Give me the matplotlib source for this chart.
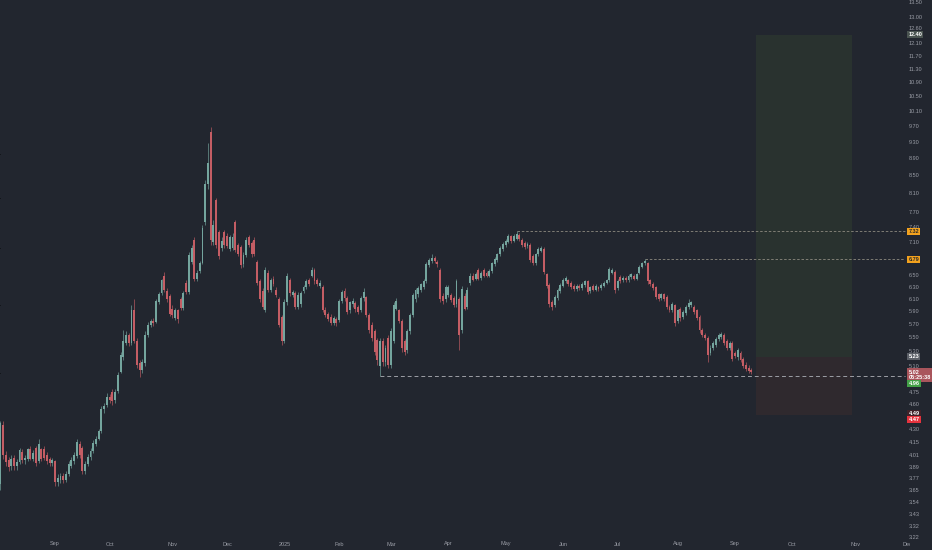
import numpy as np
import pandas as pd
import matplotlib
matplotlib.use("Agg")
import matplotlib.pyplot as plt
from matplotlib.transforms import blended_transform_factory, offset_copy

# ---------------- data (daily candles, trading days from 2024-08-05) ----------------
opens = [3.72,4.36,4.02,3.96,3.90,3.99,3.90,3.94,4.05,3.96,
         3.98,4.08,3.98,4.09,3.95,4.08,4.08,4.02,3.98,3.93,
         3.95,3.74,3.76,3.80,3.76,3.82,3.90,3.95,4.01,4.14,
         4.10,3.85,3.92,4.00,4.06,4.14,4.20,4.28,4.54,4.60,
         4.70,4.76,4.66,4.77,5.02,5.22,5.42,5.55,5.42,5.93,
         5.45,5.14,5.05,5.14,5.55,5.70,5.76,5.74,6.06,6.20,
         6.50,6.24,6.15,5.95,5.80,5.92,6.10,5.96,6.38,6.22,
         6.75,7.15,6.45,6.58,6.72,7.50,8.30,9.55,7.12,7.96,
         7.30,7.00,7.30,7.22,6.98,7.00,7.50,7.06,7.02,6.70,
         6.87,7.20,7.10,7.15,6.75,6.40,6.23,5.93,6.55,6.25,
         6.45,6.26,6.10,5.82,5.45,6.05,6.42,6.17,6.20,5.98,
         6.02,6.24,6.30,6.42,6.50,6.60,6.42,6.32,6.30,5.93,
         5.86,5.82,5.73,5.78,5.77,6.07,6.24,6.12,5.92,6.02,
         6.04,5.97,5.93,6.12,6.13,5.85,5.70,5.60,5.47,5.10,
         5.45,5.15,5.50,5.12,5.45,5.95,5.92,5.75,5.45,5.32,
         5.60,5.85,6.10,6.18,6.25,6.30,6.40,6.68,6.76,6.82,
         6.74,6.60,6.15,6.10,6.17,6.17,6.12,6.02,6.10,5.62,
         6.15,5.97,6.38,6.50,6.45,6.60,6.46,6.60,6.55,6.50,
         6.58,6.70,6.78,6.88,6.98,7.05,7.12,7.22,7.14,7.18,
         7.24,7.16,7.10,7.03,7.06,6.85,6.72,6.88,6.95,6.98,
         6.52,6.34,6.05,6.00,6.12,6.24,6.33,6.40,6.42,6.38,
         6.33,6.27,6.32,6.28,6.34,6.40,6.24,6.32,6.26,6.30,
         6.28,6.33,6.38,6.42,6.55,6.56,6.28,6.48,6.42,6.46,
         6.42,6.47,6.50,6.45,6.55,6.66,6.72,6.72,6.42,6.36,
         6.30,6.18,6.12,6.18,6.14,5.98,5.92,6.00,5.75,5.95,
         5.82,5.88,5.97,6.00,5.98,5.92,5.82,5.62,5.55,5.50,
         5.28,5.36,5.40,5.48,5.52,5.54,5.45,5.35,5.42,5.28,
         5.22,5.28,5.20,5.12,5.08,5.05]
highs = [4.40,4.40,4.06,4.00,4.02,4.02,3.98,4.10,4.08,4.02,
         4.10,4.12,4.07,4.12,4.20,4.10,4.12,4.05,4.00,3.99,
         3.97,3.82,3.83,3.83,3.85,3.95,4.00,4.05,4.20,4.17,
         4.12,3.95,4.03,4.09,4.18,4.23,4.31,4.58,4.62,4.74,
         4.73,4.80,4.80,5.02,5.30,5.62,5.60,5.58,6.00,6.10,
         5.50,5.18,5.20,5.60,5.74,5.78,5.80,6.10,6.22,6.45,
         6.56,6.28,6.18,6.00,5.96,5.95,6.14,6.24,6.42,6.92,
         7.05,7.20,6.60,6.76,7.45,8.40,9.27,9.68,7.55,8.00,
         7.35,7.20,7.35,7.28,7.25,7.28,7.55,7.10,7.05,6.92,
         7.20,7.25,7.14,7.20,6.78,6.45,6.28,6.65,6.60,6.46,
         6.50,6.30,6.14,5.85,6.10,6.55,6.46,6.26,6.24,6.22,
         6.24,6.34,6.44,6.46,6.65,6.63,6.46,6.42,6.34,5.97,
         5.90,5.86,5.84,5.82,6.10,6.26,6.28,6.15,6.08,6.12,
         6.07,6.00,6.15,6.28,6.16,5.88,5.74,5.64,5.50,5.50,
         5.50,5.40,5.55,5.65,6.05,6.12,5.95,5.78,5.48,5.64,
         5.88,6.20,6.28,6.32,6.38,6.44,6.74,6.82,6.88,6.86,
         6.77,6.64,6.20,6.34,6.34,6.21,6.16,6.44,6.14,6.32,
         6.20,6.30,6.54,6.54,6.57,6.64,6.58,6.63,6.58,6.62,
         6.75,6.83,6.91,7.03,7.11,7.18,7.26,7.25,7.26,7.32,
         7.28,7.19,7.13,7.12,7.09,6.88,6.91,7.02,7.04,7.01,
         6.55,6.37,6.09,6.17,6.28,6.37,6.46,6.50,6.45,6.41,
         6.36,6.35,6.35,6.39,6.43,6.43,6.33,6.35,6.35,6.33,
         6.37,6.41,6.45,6.66,6.64,6.59,6.44,6.51,6.49,6.49,
         6.53,6.55,6.53,6.55,6.69,6.75,6.79,6.75,6.45,6.39,
         6.33,6.21,6.21,6.21,6.17,6.01,6.05,6.03,5.95,5.98,
         5.93,6.01,6.10,6.08,6.01,5.95,5.85,5.65,5.58,5.53,
         5.39,5.45,5.51,5.57,5.59,5.57,5.48,5.45,5.45,5.31,
         5.35,5.31,5.23,5.15,5.11,5.08]
lows = [3.66,3.98,3.90,3.85,3.86,3.86,3.86,3.92,3.93,3.92,
        3.95,3.96,3.95,3.90,3.93,3.95,3.96,3.92,3.90,3.90,
        3.70,3.70,3.73,3.73,3.74,3.80,3.88,3.92,3.99,3.99,
        3.82,3.82,3.90,3.97,4.04,4.12,4.18,4.26,4.50,4.57,
        4.62,4.60,4.62,4.74,5.00,5.18,5.40,5.38,5.40,5.42,
        5.08,4.95,5.00,5.10,5.52,5.66,5.68,5.72,6.02,6.17,
        6.22,6.06,5.84,5.80,5.77,5.73,5.92,5.93,6.18,6.18,
        6.70,6.40,6.40,6.54,6.70,7.45,8.20,7.05,7.05,7.00,
        6.80,6.95,7.00,7.00,6.95,6.96,6.92,6.85,6.64,6.66,
        6.84,7.02,6.84,6.85,6.34,6.06,5.94,5.90,6.22,6.22,
        6.32,6.14,5.66,5.40,5.42,6.00,6.16,6.14,5.94,5.95,
        5.98,6.20,6.27,6.33,6.47,6.36,6.32,6.29,5.90,5.82,
        5.76,5.70,5.70,5.68,5.74,6.04,6.08,5.87,5.88,5.98,
        5.90,5.86,5.90,6.08,5.82,5.58,5.46,5.26,5.12,4.97,
        5.10,5.10,5.08,5.08,5.42,5.92,5.72,5.30,5.25,5.28,
        5.56,5.82,6.06,6.14,6.22,6.27,6.37,6.65,6.72,6.72,
        6.66,6.06,6.02,6.06,6.14,6.05,5.97,5.98,5.33,5.58,
        5.92,5.94,6.34,6.40,6.42,6.42,6.43,6.47,6.47,6.47,
        6.55,6.67,6.75,6.85,6.95,7.02,7.09,7.10,7.11,7.15,
        7.14,7.02,6.98,7.00,6.74,6.68,6.69,6.85,6.92,6.52,
        6.28,5.98,5.92,5.97,6.09,6.21,6.30,6.37,6.33,6.27,
        6.24,6.24,6.25,6.25,6.31,6.18,6.21,6.23,6.23,6.24,
        6.25,6.30,6.35,6.39,6.52,6.21,6.25,6.37,6.39,6.39,
        6.39,6.44,6.42,6.42,6.52,6.63,6.69,6.36,6.33,6.25,
        6.11,6.07,6.09,6.07,5.95,5.89,5.89,5.68,5.72,5.76,
        5.79,5.85,5.94,5.97,5.87,5.77,5.58,5.52,5.47,5.15,
        5.25,5.33,5.37,5.45,5.49,5.39,5.32,5.32,5.17,5.21,
        5.19,5.15,5.07,5.03,5.00,4.99]
closes = [4.38,4.02,3.94,3.89,3.98,3.90,3.94,4.07,3.96,3.99,
          4.08,3.98,4.04,3.93,4.14,3.98,3.99,3.95,3.93,3.96,
          3.74,3.78,3.80,3.76,3.82,3.92,3.97,4.02,4.16,4.02,
          3.85,3.92,4.00,4.06,4.15,4.20,4.28,4.55,4.58,4.70,
          4.66,4.64,4.76,4.98,5.25,5.45,5.55,5.42,5.93,5.45,
          5.12,5.05,5.15,5.55,5.70,5.75,5.72,6.07,6.18,6.42,
          6.26,6.10,5.87,5.85,5.92,5.78,5.96,6.20,6.22,6.87,
          7.00,6.45,6.55,6.72,7.38,8.30,8.79,7.15,7.45,7.05,
          6.85,7.14,7.06,7.04,7.20,7.20,6.96,6.88,6.68,6.87,
          7.15,7.06,6.88,6.88,6.37,6.10,5.98,6.60,6.25,6.42,
          6.36,6.17,5.70,5.45,6.05,6.50,6.20,6.22,5.98,6.17,
          6.20,6.30,6.40,6.36,6.60,6.40,6.36,6.38,5.93,5.85,
          5.79,5.73,5.80,5.72,6.07,6.22,6.12,5.90,6.05,6.08,
          5.94,5.90,6.12,6.22,5.85,5.62,5.50,5.30,5.18,5.45,
          5.15,5.35,5.12,5.60,6.00,6.07,5.76,5.35,5.30,5.60,
          5.85,6.17,6.25,6.28,6.35,6.40,6.70,6.78,6.82,6.76,
          6.70,6.10,6.07,6.30,6.30,6.09,6.01,6.40,5.55,6.27,
          5.95,6.25,6.50,6.42,6.53,6.45,6.55,6.50,6.50,6.58,
          6.72,6.80,6.88,7.00,7.08,7.14,7.22,7.14,7.22,7.26,
          7.18,7.06,7.02,7.08,6.78,6.72,6.88,6.98,7.00,6.56,
          6.32,6.02,5.98,6.14,6.25,6.34,6.42,6.46,6.36,6.30,
          6.27,6.32,6.28,6.36,6.40,6.22,6.30,6.26,6.32,6.27,
          6.34,6.38,6.42,6.62,6.60,6.25,6.40,6.40,6.46,6.42,
          6.50,6.52,6.45,6.52,6.66,6.72,6.76,6.40,6.36,6.28,
          6.14,6.10,6.18,6.10,5.98,5.92,6.02,5.72,5.92,5.80,
          5.90,5.98,6.04,6.05,5.90,5.80,5.62,5.55,5.50,5.26,
          5.36,5.42,5.48,5.54,5.56,5.42,5.35,5.42,5.20,5.24,
          5.32,5.18,5.10,5.06,5.03,5.02]

holidays = ["2024-09-02", "2024-11-28", "2024-12-25", "2025-01-01", "2025-01-09",
            "2025-01-20", "2025-02-17", "2025-04-18", "2025-05-26", "2025-06-19",
            "2025-07-04", "2025-09-01", "2025-11-27"]
start_date = "2024-08-05"
end_date = "2025-12-31"
month_names = ["Jan", "Feb", "Mar", "Apr", "May", "Jun", "Jul", "Aug", "Sep", "Oct", "Nov", "Dec"]

price_ticks = [13.50, 13.00, 12.60, 12.10, 11.70, 11.30, 10.90, 10.50, 10.10, 9.70, 9.30,
               8.90, 8.50, 8.10, 7.70, 7.40, 7.10, 6.50, 6.30, 6.10, 5.90, 5.70, 5.50,
               5.30, 5.10, 4.75, 4.60, 4.30, 4.15, 4.01, 3.89, 3.77, 3.65, 3.54, 3.43,
               3.32, 3.22]

# position tool & drawn levels
target_price = 12.40
entry_price = 5.23
stop_price = 4.47
stop_price2 = 4.49
res_level_1 = 7.32
res_level_2 = 6.79
support_level = 4.97
support_label = 4.96
last_price = 5.02
countdown = "05:25:38"

# ---------------- style ----------------
BG = "#22262f"
TXT = "#9a9da6"
UP = "#74a59e"
DN = "#c45d64"
FONT = "Liberation Sans"

W, H = 932, 550
PX0, PXB = 0.4, 2.731          # pixel of bar 0, pixels per bar
AX_R = 909.5                   # right edge of plotting pane (px)
LINE_R = 905                   # where drawn levels end (px)

fig = plt.figure(figsize=(W / 100, H / 100), dpi=100, facecolor=BG)
ax = fig.add_axes([0, 0, AX_R / W, 1])
ax.set_facecolor(BG)
ax.set_yscale("log")

# time axis from trading calendar
days = pd.bdate_range(start_date, end_date, freq="C", holidays=holidays)
n = len(closes)
x = np.arange(n)
o = np.array(opens); h = np.array(highs); l = np.array(lows); c = np.array(closes)
up = c >= o
cols = np.where(up, UP, DN)

# price scale geometry (log scale): px 3 -> 13.50, 373 px per ln unit
top_price = 13.5 * np.exp(3 / 373)
bot_price = 13.5 * np.exp(-(H - 3) / 373)
ax.set_ylim(bot_price, top_price)
ax.set_xlim(-PX0 / PXB, (AX_R - PX0) / PXB)

# position tool
x0_pos, x1_pos = (756 - PX0) / PXB, (852 - PX0) / PXB
ax.fill_between([x0_pos, x1_pos], entry_price, target_price, color="#29322f", lw=0, zorder=0.5)
ax.fill_between([x0_pos, x1_pos], stop_price, entry_price, color="#2f292e", lw=0, zorder=0.5)

# dashed levels
xr = (LINE_R - PX0) / PXB
ax.plot([189, xr], [res_level_1] * 2, color="#8d8a80", lw=0.6, dashes=(3, 2.2), zorder=1)
ax.plot([236, xr], [res_level_2] * 2, color="#8d8a80", lw=0.6, dashes=(3, 2.2), zorder=1)
ax.plot([139, xr], [support_level] * 2, color="#9c9ea5", lw=0.7, dashes=(4, 3), zorder=1)

# candles
ax.vlines(x, l, h, colors=cols, lw=0.45, zorder=2)
body_h = np.abs(c - o)
body_h = np.where(body_h < 0.01, 0.01, body_h)
ax.bar(x, body_h, bottom=np.minimum(o, c), width=0.7, color=cols, lw=0, zorder=3)

for s in ax.spines.values():
    s.set_visible(False)
ax.set_xticks([]); ax.set_yticks([])

# month labels on the time axis
idx = [i for i in range(1, len(days)) if days[i].month != days[i - 1].month]
tr_x = blended_transform_factory(ax.transData, ax.transAxes)
for i in idx:
    d = days[i]
    lab = str(d.year) if d.month == 1 else month_names[d.month - 1]
    ax.text(i, 1 - 544 / H, lab, transform=tr_x, ha="center", va="center",
            fontsize=4, color=TXT, family=FONT, clip_on=True)

# price axis labels
tr_y = blended_transform_factory(fig.transFigure, ax.transData)
xl = 908.5 / W
for p in price_ticks:
    fig.text(xl, p, f"{p:.2f}", transform=tr_y, ha="left", va="center",
             fontsize=4, color=TXT, family=FONT)

def tag(price, text, bg, fg, dy=0):
    t = offset_copy(tr_y, fig=fig, x=0, y=dy, units="dots")
    fig.text(xl, price, text, transform=t, ha="left", va="center", fontsize=4,
             color=fg, family=FONT, fontweight="bold",
             bbox=dict(boxstyle="square,pad=0.2", fc=bg, ec="none"), zorder=5)

tag(target_price, f"{target_price:.2f}", "#4a5451", "#ffffff")
tag(res_level_1, f"{res_level_1:.2f}", "#f3a21e", "#2a2a2a")
tag(res_level_2, f"{res_level_2:.2f}", "#f3a21e", "#2a2a2a")
tag(entry_price, f"{entry_price:.2f}", "#5c6068", "#ffffff")
tag(last_price, f"{last_price:.2f}\n{countdown}", "#a9555c", "#ffffff", dy=-3)
tag(support_label, f"{support_label:.2f}", "#43a047", "#ffffff", dy=-7)
tag(stop_price2, f"{stop_price2:.2f}", "#3e2229", "#ffffff")
tag(stop_price, f"{stop_price:.2f}", "#e5333e", "#ffffff", dy=-4.5)

fig.savefig("out.png", dpi=100, facecolor=BG)
